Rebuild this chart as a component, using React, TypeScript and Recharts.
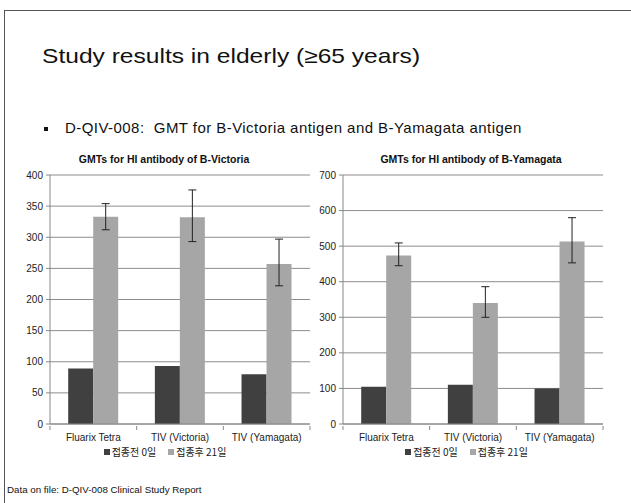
import { BarChart, Bar, XAxis, YAxis, CartesianGrid, Legend, ErrorBar } from 'recharts';

const groups = ['Fluarix Tetra', 'TIV (Victoria)', 'TIV (Yamagata)'];
const seriesNames = ['접종전 0일', '접종후 21일'];

// B-Victoria
const vicDay0 = [89, 93, 80];
const vicDay21 = [333, 332, 257];
const vicLow = [312, 293, 222];
const vicHigh = [354, 376, 297];

// B-Yamagata
const yamDay0 = [105, 110, 100];
const yamDay21 = [474, 340, 513];
const yamLow = [445, 300, 453];
const yamHigh = [509, 386, 580];

const vicTicks = [0, 50, 100, 150, 200, 250, 300, 350, 400];
const yamTicks = [0, 100, 200, 300, 400, 500, 600, 700];

const DARK = '#404040';
const LIGHT = '#a6a6a6';
const FONT = '"Liberation Sans", Arial, sans-serif';

function buildRows(d0: number[], d21: number[], lo: number[], hi: number[]) {
  return groups.map((g, i) => ({
    name: g,
    day0: d0[i],
    day21: d21[i],
    err: [d21[i] - lo[i], hi[i] - d21[i]],
  }));
}

const vicRows = buildRows(vicDay0, vicDay21, vicLow, vicHigh);
const yamRows = buildRows(yamDay0, yamDay21, yamLow, yamHigh);

function CategoryTick(props: any) {
  const { x, y, payload, index } = props;
  const half = payload.offset || 0;
  return (
    <g>
      <line x1={x - half} y1={y - 6} x2={x - half} y2={y - 2} stroke="#888" />
      {index === groups.length - 1 && (
        <line x1={x + half} y1={y - 6} x2={x + half} y2={y - 2} stroke="#888" />
      )}
      <text x={x} y={y + 9} textAnchor="middle" fontSize={10} fill="#222" fontFamily={FONT}>
        {payload.value}
      </text>
    </g>
  );
}

function LegendContent() {
  return (
    <div style={{ display: 'flex', justifyContent: 'center', gap: 12, paddingLeft: 20, fontSize: 10, color: '#222', fontFamily: '"Noto Sans CJK KR", sans-serif' }}>
      {seriesNames.map((n, i) => (
        <span key={n} style={{ display: 'flex', alignItems: 'center' }}>
          <span style={{ width: 6, height: 6, background: i === 0 ? DARK : LIGHT, marginRight: 2, display: 'inline-block' }} />
          {n}
        </span>
      ))}
    </div>
  );
}

function GmtChart({ rows, ticks, max, title, yWidth, left, marginRight, titleCenter }: any) {
  return (
    <div style={{ position: 'absolute', left, top: 140 }}>
      <div style={{ position: 'absolute', top: 13, left: titleCenter - 130, width: 260, textAlign: 'center', fontWeight: 'bold', fontSize: 10.5, fontFamily: FONT, color: '#111' }}>
        {title}
      </div>
      <BarChart width={yWidth + 260 + marginRight} height={330} data={rows} margin={{ top: 35, right: marginRight, left: 0, bottom: 6 }} barGap={0} barCategoryGap="21%">
        <CartesianGrid vertical={false} stroke="#8c8c8c" />
        <XAxis dataKey="name" height={20} stroke="#888" tickLine={false} tick={<CategoryTick />} interval={0} />
        <YAxis width={yWidth} domain={[0, max]} ticks={ticks} stroke="#888" tickSize={4} tickMargin={3} tick={{ fontSize: 10, fill: '#222', fontFamily: FONT }} />
        <Legend verticalAlign="bottom" height={20} content={<LegendContent />} />
        <Bar dataKey="day0" name={seriesNames[0]} fill={DARK} isAnimationActive={false} />
        <Bar dataKey="day21" name={seriesNames[1]} fill={LIGHT} isAnimationActive={false}>
          <ErrorBar dataKey="err" width={4} stroke="#222" strokeWidth={1} direction="y" />
        </Bar>
      </BarChart>
    </div>
  );
}

export default function App() {
  return (
    <div style={{ position: 'absolute', left: 0, top: 0, width: 631, height: 503, background: '#fff', overflow: 'hidden', fontFamily: FONT }}>
      <div style={{ position: 'absolute', left: 4, top: 10, width: 640, height: 510, border: '1px solid #555' }} />
      <div style={{ position: 'absolute', left: 42, top: 44, fontSize: 21, color: '#111', whiteSpace: 'nowrap', transform: 'scaleX(1.17)', transformOrigin: 'left top' }}>
        Study results in elderly (≥65 years)
      </div>
      <span style={{ position: 'absolute', left: 44, top: 127, width: 4, height: 4, background: '#111' }} />
      <div style={{ position: 'absolute', left: 65, top: 119, fontSize: 15, letterSpacing: 0.45, color: '#111', whiteSpace: 'pre' }}>
        {'D-QIV-008:  GMT for B-Victoria antigen and B-Yamagata antigen'}
      </div>
      <GmtChart rows={vicRows} ticks={vicTicks} max={400} title="GMTs for HI antibody of B-Victoria" yWidth={50} left={0} marginRight={10} titleCenter={164} />
      <GmtChart rows={yamRows} ticks={yamTicks} max={700} title="GMTs for HI antibody of B-Yamagata" yWidth={33} left={310} marginRight={11} titleCenter={161} />
      <div style={{ position: 'absolute', left: 7, top: 484, fontSize: 9.75, color: '#111', whiteSpace: 'nowrap' }}>
        Data on file: D-QIV-008 Clinical Study Report
      </div>
    </div>
  );
}
